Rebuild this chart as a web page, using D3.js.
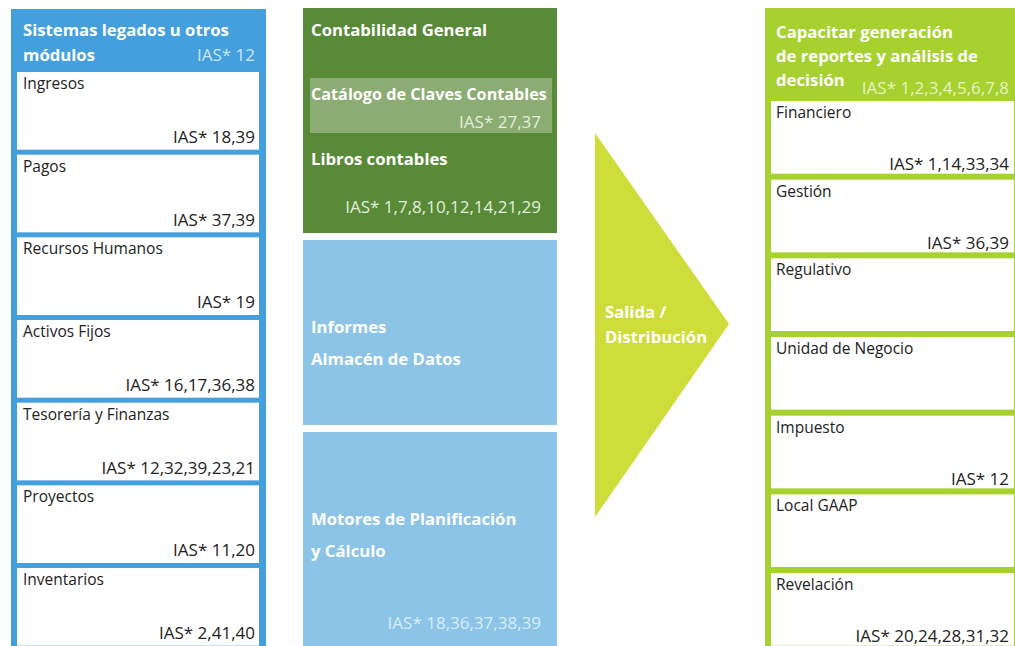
<!DOCTYPE html>
<html>
<head>
<meta charset="utf-8">
<script src="https://cdn.jsdelivr.net/npm/d3@7"></script>
<style>
  body { margin: 0; background: #fff; }
  svg { display: block; font-family: "Open Sans", "DejaVu Sans", sans-serif; }
  .head { fill: #fff; font-weight: 700; font-size: 16.7px; }
  .lbl { fill: #222; font-size: 15.5px; }
  .ias { fill: #222; font-size: 17px; text-anchor: end; }
</style>
</head>
<body>
<svg width="1015" height="646"></svg>
<script>
// entradas: sistemas legados
var leftModules = ["Ingresos", "Pagos", "Recursos Humanos", "Activos Fijos", "Tesorería y Finanzas", "Proyectos", "Inventarios"];
var leftIAS = ["18,39", "37,39", "19", "16,17,36,38", "12,32,39,23,21", "11,20", "2,41,40"];
var leftTitle = ["Sistemas legados u otros", "módulos"];
var leftTitleIAS = "12";

// bloque central
var ledgerTitle = "Contabilidad General";
var ledgerItems = ["Catálogo de Claves Contables", "Libros contables"];
var ledgerIAS = ["27,37", "1,7,8,10,12,14,21,29"];
var warehouseLines = ["Informes", "Almacén de Datos"];
var engineLines = ["Motores de Planificación", "y Cálculo"];
var engineIAS = "18,36,37,38,39";
var arrowLines = ["Salida /", "Distribución"];

// salidas: reportes
var rightOutputs = ["Financiero", "Gestión", "Regulativo", "Unidad de Negocio", "Impuesto", "Local GAAP", "Revelación"];
var rightIAS = ["1,14,33,34", "36,39", "", "", "12", "", "20,24,28,31,32"];
var rightTitle = ["Capacitar generación", "de reportes y análisis de", "decisión"];
var rightTitleIAS = "1,2,3,4,5,6,7,8";

var svg = d3.select("svg"),
    width = +svg.attr("width"),
    height = +svg.attr("height");

var blue = "#43a0dd", lightBlue = "#8bc4e7", darkGreen = "#588a38",
    paleGreen = "#8bac72", lime = "#a6d12f", yellowGreen = "#cedd3a";

function ias(s) { return "IAS* " + s; }

// ---------- columna izquierda ----------
svg.append("rect")
    .attr("x", 11).attr("y", 9).attr("width", 255).attr("height", height)
    .attr("fill", blue);

svg.append("g").selectAll("text")
    .data(leftTitle)
    .enter().append("text")
    .attr("class", "head")
    .attr("x", 23)
    .attr("y", function (d, i) { return 36 + i * 25; })
    .text(function (d) { return d; });

svg.append("text")
    .attr("class", "ias")
    .attr("x", 255).attr("y", 61)
    .style("fill", "#cfe5f6")
    .text(ias(leftTitleIAS));

var yLeft = d3.scaleBand()
    .domain(leftModules)
    .range([72, 72 + 82.67 * 7 - 5])
    .paddingInner(5 / 82.67);

var lbox = svg.append("g").selectAll("g")
    .data(leftModules)
    .enter().append("g")
    .attr("transform", function (d) { return "translate(17," + yLeft(d) + ")"; });

lbox.append("rect")
    .attr("width", 242)
    .attr("height", yLeft.bandwidth())
    .attr("fill", "#fff");

lbox.append("text")
    .attr("class", "lbl")
    .attr("x", 6).attr("y", 17)
    .text(function (d) { return d; });

lbox.append("text")
    .attr("class", "ias")
    .attr("x", 238).attr("y", 71)
    .text(function (d, i) { return ias(leftIAS[i]); });

// ---------- bloque central ----------
svg.append("rect")
    .attr("x", 303).attr("y", 8).attr("width", 254).attr("height", 225)
    .attr("fill", darkGreen);
svg.append("rect")
    .attr("x", 310).attr("y", 78).attr("width", 242).attr("height", 55)
    .attr("fill", paleGreen);

svg.append("text").attr("class", "head")
    .attr("x", 311).attr("y", 36).text(ledgerTitle);

var ledgerY = [100, 165], ledgerIasY = [128, 213];
ledgerItems.forEach(function (t, i) {
    svg.append("text").attr("class", "head")
        .attr("x", 311).attr("y", ledgerY[i])
        .style("font-size", i === 0 ? "16.2px" : null)
        .text(t);
    svg.append("text").attr("class", "ias")
        .attr("x", 541).attr("y", ledgerIasY[i])
        .style("fill", "#e4eedc")
        .text(ias(ledgerIAS[i]));
});

svg.append("rect")
    .attr("x", 303).attr("y", 240).attr("width", 254).attr("height", 185)
    .attr("fill", lightBlue);
svg.append("g").selectAll("text")
    .data(warehouseLines)
    .enter().append("text")
    .attr("class", "head")
    .attr("x", 311)
    .attr("y", function (d, i) { return 333 + i * 32; })
    .text(function (d) { return d; });

svg.append("rect")
    .attr("x", 303).attr("y", 432).attr("width", 254).attr("height", height - 432)
    .attr("fill", lightBlue);
svg.append("g").selectAll("text")
    .data(engineLines)
    .enter().append("text")
    .attr("class", "head")
    .attr("x", 311)
    .attr("y", function (d, i) { return 525 + i * 32; })
    .text(function (d) { return d; });
svg.append("text").attr("class", "ias")
    .attr("x", 541).attr("y", 629)
    .style("fill", "#d8ecf8")
    .text(ias(engineIAS));

// ---------- flecha ----------
svg.append("path")
    .attr("d", d3.line()([[595, 133], [729, 324], [595, 517]]) + "Z")
    .attr("fill", yellowGreen);
svg.append("g").selectAll("text")
    .data(arrowLines)
    .enter().append("text")
    .attr("class", "head")
    .attr("x", 605)
    .attr("y", function (d, i) { return 318 + i * 25; })
    .text(function (d) { return d; });

// ---------- columna derecha ----------
svg.append("rect")
    .attr("x", 765).attr("y", 8).attr("width", 260).attr("height", height)
    .attr("fill", lime);

svg.append("g").selectAll("text")
    .data(rightTitle)
    .enter().append("text")
    .attr("class", "head")
    .attr("x", 776)
    .attr("y", function (d, i) { return 38 + i * 24; })
    .text(function (d) { return d; });
svg.append("text").attr("class", "ias")
    .attr("x", 1009).attr("y", 94)
    .style("fill", "#e6f3c4")
    .text(ias(rightTitleIAS));

var yRight = d3.scaleBand()
    .domain(rightOutputs)
    .range([101, 101 + 78.67 * 7 - 6])
    .paddingInner(6 / 78.67);

var rbox = svg.append("g").selectAll("g")
    .data(rightOutputs)
    .enter().append("g")
    .attr("transform", function (d) { return "translate(771," + yRight(d) + ")"; });

rbox.append("rect")
    .attr("width", 243)
    .attr("height", yRight.bandwidth())
    .attr("fill", "#fff");

rbox.append("text")
    .attr("class", "lbl")
    .attr("x", 5).attr("y", 17)
    .text(function (d) { return d; });

rbox.append("text")
    .attr("class", "ias")
    .attr("x", 238).attr("y", 69)
    .text(function (d, i) { return rightIAS[i] ? ias(rightIAS[i]) : ""; });
</script>
</body>
</html>
